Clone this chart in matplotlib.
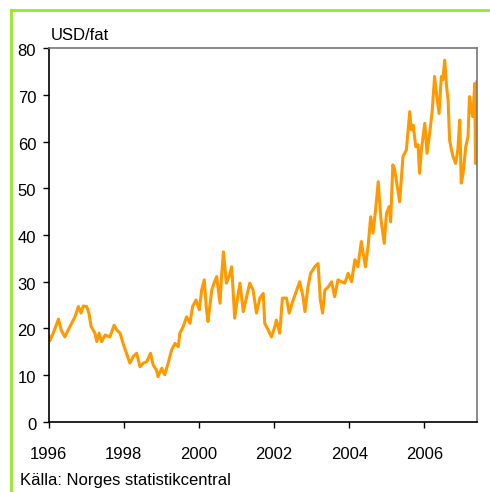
import matplotlib
matplotlib.use("Agg")
import matplotlib.pyplot as plt
import matplotlib.transforms as mtransforms
from matplotlib.lines import Line2D

plt.rcParams['font.family'] = ['Liberation Sans', 'DejaVu Sans']

# oil price, USD per barrel (decimal years)
years = [
    1996.01, 1996.03, 1996.12, 1996.26, 1996.33, 1996.43, 1996.52, 1996.61, 1996.70, 1996.79,
    1996.86, 1996.92, 1997.01, 1997.07, 1997.13, 1997.23, 1997.28, 1997.34, 1997.41, 1997.50,
    1997.63, 1997.74, 1997.81, 1997.90, 1997.98, 1998.07, 1998.16, 1998.25, 1998.34, 1998.43,
    1998.52, 1998.61, 1998.71, 1998.78, 1998.87, 1998.91, 1999.01, 1999.09, 1999.18, 1999.27,
    1999.36, 1999.45, 1999.49, 1999.58, 1999.67, 1999.76, 1999.83, 1999.92, 2000.01, 2000.07,
    2000.14, 2000.20, 2000.24, 2000.34, 2000.40, 2000.47, 2000.56, 2000.60, 2000.65, 2000.73,
    2000.80, 2000.87, 2000.95, 2001.03, 2001.09, 2001.18, 2001.27, 2001.35, 2001.44, 2001.53,
    2001.62, 2001.71, 2001.75, 2001.84, 2001.93, 2002.02, 2002.06, 2002.15, 2002.22, 2002.33,
    2002.40, 2002.49, 2002.60, 2002.68, 2002.77, 2002.82, 2002.90, 2002.97, 2003.08, 2003.17,
    2003.23, 2003.29, 2003.35, 2003.44, 2003.53, 2003.61, 2003.70, 2003.79, 2003.88, 2003.97,
    2004.06, 2004.15, 2004.23, 2004.32, 2004.43, 2004.50, 2004.57, 2004.63, 2004.70, 2004.77,
    2004.84, 2004.93, 2004.99, 2005.06, 2005.10, 2005.16, 2005.21, 2005.28, 2005.34, 2005.43,
    2005.52, 2005.61, 2005.65, 2005.70, 2005.77, 2005.83, 2005.87, 2005.92, 2006.01, 2006.07,
    2006.14, 2006.21, 2006.27, 2006.32, 2006.39, 2006.45, 2006.49, 2006.54, 2006.59, 2006.63,
    2006.67, 2006.72, 2006.76, 2006.83, 2006.89, 2006.94, 2006.98, 2007.03, 2007.10, 2007.16,
    2007.20, 2007.25, 2007.29, 2007.34, 2007.36, 2007.40,
]
price = [
    18.2, 17.4, 19.0, 22.0, 19.7, 18.2, 19.7, 21.1, 22.5, 24.7,
    23.3, 24.8, 24.7, 23.3, 20.4, 19.0, 17.2, 19.0, 17.2, 18.6,
    18.2, 20.7, 19.7, 19.0, 16.8, 14.7, 12.6, 14.0, 14.7, 11.8,
    12.6, 12.9, 14.7, 12.2, 11.1, 9.7, 11.5, 10.1, 12.6, 15.4,
    16.8, 16.1, 19.0, 20.4, 22.5, 21.1, 24.7, 26.1, 24.0, 28.2,
    30.4, 24.0, 21.5, 28.2, 29.7, 31.1, 25.4, 31.1, 36.4, 29.7,
    31.1, 33.2, 22.2, 26.8, 29.7, 23.6, 26.8, 29.7, 28.2, 23.3,
    26.5, 27.5, 21.1, 19.7, 18.2, 20.4, 21.8, 19.0, 26.5, 26.5,
    23.3, 25.7, 28.2, 30.0, 26.8, 23.6, 28.9, 31.8, 33.2, 33.9,
    26.1, 23.3, 28.2, 28.9, 30.0, 26.8, 30.4, 30.0, 29.7, 31.8,
    30.0, 34.7, 33.2, 38.6, 33.2, 37.5, 43.9, 40.4, 45.3, 51.4,
    43.6, 38.2, 44.6, 46.1, 42.8, 55.0, 53.9, 50.3, 47.1, 56.8,
    58.2, 66.4, 62.5, 63.5, 58.9, 59.3, 53.2, 58.2, 63.9, 57.5,
    61.8, 66.7, 73.9, 70.3, 66.0, 73.9, 73.2, 77.4, 71.7, 68.9,
    60.3, 58.2, 56.8, 55.3, 58.2, 64.6, 51.1, 53.2, 58.9, 61.0,
    69.6, 66.7, 65.3, 72.4, 55.3, 72.8,
]
x_ticks = [1996, 1998, 2000, 2002, 2004, 2006]
y_ticks = [0, 10, 20, 30, 40, 50, 60, 70, 80]

fig = plt.figure(figsize=(4.9, 4.92), dpi=100)
ax = fig.add_axes([0.0994, 0.1423, 0.8741, 0.7601])

ax.plot(years, price, color="#FF9900", linewidth=2.2, solid_joinstyle="round")

ax.set_xlim(1996, 2007.4)
ax.set_ylim(0, 80)
ax.set_xticks(x_ticks)
ax.set_yticks(y_ticks)
ax.tick_params(axis="both", labelsize=12, length=4, width=1, color="black")
ax.tick_params(axis="x", pad=14)
ax.tick_params(axis="y", pad=5)

# y labels sit a little below their ticks in the original
shift = mtransforms.ScaledTranslation(0, -2 / 100, fig.dpi_scale_trans)
for lab in ax.get_yticklabels():
    lab.set_transform(lab.get_transform() + shift)

for side in ["left", "bottom"]:
    ax.spines[side].set_color("black")
    ax.spines[side].set_linewidth(1.2)
for side in ["top", "right"]:
    ax.spines[side].set_color("#777777")
    ax.spines[side].set_linewidth(1.2)

fig.text(51 / 490, 1 - 35 / 492, "USD/fat", fontsize=12, ha="left", va="center")
fig.text(20 / 490, 1 - 480 / 492, "Källa: Norges statistikcentral", fontsize=12,
         ha="left", va="center")

# green frame on left and top
green = "#9BE62A"
fig.add_artist(Line2D([11 / 490, 11 / 490], [0, 1 - 10 / 492], transform=fig.transFigure,
                      color=green, linewidth=2))
fig.add_artist(Line2D([11 / 490, 1], [1 - 10 / 492, 1 - 10 / 492], transform=fig.transFigure,
                      color=green, linewidth=2))

fig.savefig("out.png", dpi=100)
